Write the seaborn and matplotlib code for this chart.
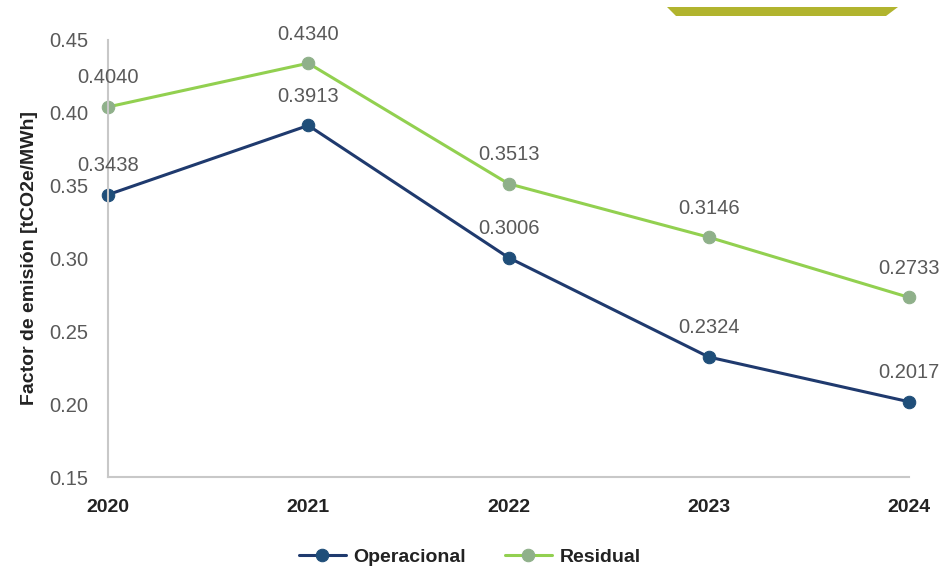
import pandas
import seaborn as sns
from matplotlib import pyplot as plt
from matplotlib.patches import Polygon

YEARS = ["2020", "2021", "2022", "2023", "2024"]
OPERACIONAL = [0.3438, 0.3913, 0.3006, 0.2324, 0.2017]
RESIDUAL = [0.4040, 0.4340, 0.3513, 0.3146, 0.2733]
SERIES = ["Operacional", "Residual"]

LINE_COLORS = {"Operacional": "#1f3a6e", "Residual": "#92d050"}
MARKER_COLORS = {"Operacional": "#1f4e79", "Residual": "#8fb08a"}

sns.set_theme(style="white")
plt.rcParams["font.family"] = ["Liberation Sans", "DejaVu Sans"]

data_frame = pandas.DataFrame({
    "year": YEARS * 2,
    "value": OPERACIONAL + RESIDUAL,
    "serie": [SERIES[0]] * len(YEARS) + [SERIES[1]] * len(YEARS),
})
data_frame["x"] = data_frame["year"].map({y: i for i, y in enumerate(YEARS)})

fig = plt.figure(figsize=(9.45, 5.70), dpi=100)
axis = fig.add_axes([0.1143, 0.163, 0.8476, 0.767])

for serie in SERIES:
    sub = data_frame[data_frame["serie"] == serie]
    sns.lineplot(
        data=sub, x="x", y="value", ax=axis,
        color=LINE_COLORS[serie], linewidth=2.2,
        marker="o", markersize=9,
        markerfacecolor=MARKER_COLORS[serie],
        markeredgecolor=MARKER_COLORS[serie],
        label=serie, clip_on=False,
    )
    for x, v in zip(sub["x"], sub["value"]):
        axis.annotate(
            f"{v:.4f}", (x, v), xytext=(0, 21), textcoords="offset points",
            ha="center", va="center", fontsize=14.5, color="#595959",
        )

axis.set_xlim(0, len(YEARS) - 1)
axis.set_ylim(0.15, 0.45)
axis.set_xticks(range(len(YEARS)))
axis.set_xticklabels(YEARS, fontsize=14, fontweight="bold", color="#222222")
axis.set_yticks([0.15, 0.20, 0.25, 0.30, 0.35, 0.40, 0.45])
axis.set_yticklabels([f"{t:.2f}" for t in axis.get_yticks()], fontsize=14.5, color="#595959")
axis.tick_params(axis="x", pad=16, length=0)
axis.tick_params(axis="y", pad=14, length=0)
axis.set_xlabel("")
axis.set_ylabel("Factor de emisión [tCO2e/MWh]", fontsize=14, fontweight="bold",
                color="#222222", labelpad=8)

for side in ["top", "right"]:
    axis.spines[side].set_visible(False)
for side in ["left", "bottom"]:
    axis.spines[side].set_color("#c8c8c8")
    axis.spines[side].set_linewidth(1.5)

legend = axis.legend(
    loc="center", bbox_to_anchor=(0.497, 0.022), bbox_transform=fig.transFigure,
    ncol=2, frameon=False, fontsize=14, handlelength=2.4, columnspacing=2.0,
    handletextpad=0.4,
)
for text in legend.get_texts():
    text.set_fontweight("bold")
    text.set_color("#222222")

# decorative olive band at the top
fig.patches.append(Polygon(
    [(667 / 945, 1 - 7 / 570), (898 / 945, 1 - 7 / 570),
     (886 / 945, 1 - 16 / 570), (676 / 945, 1 - 16 / 570)],
    closed=True, transform=fig.transFigure, facecolor="#b1b42e", edgecolor="none",
))

fig.savefig("out.png", dpi=100)
plt.close()
